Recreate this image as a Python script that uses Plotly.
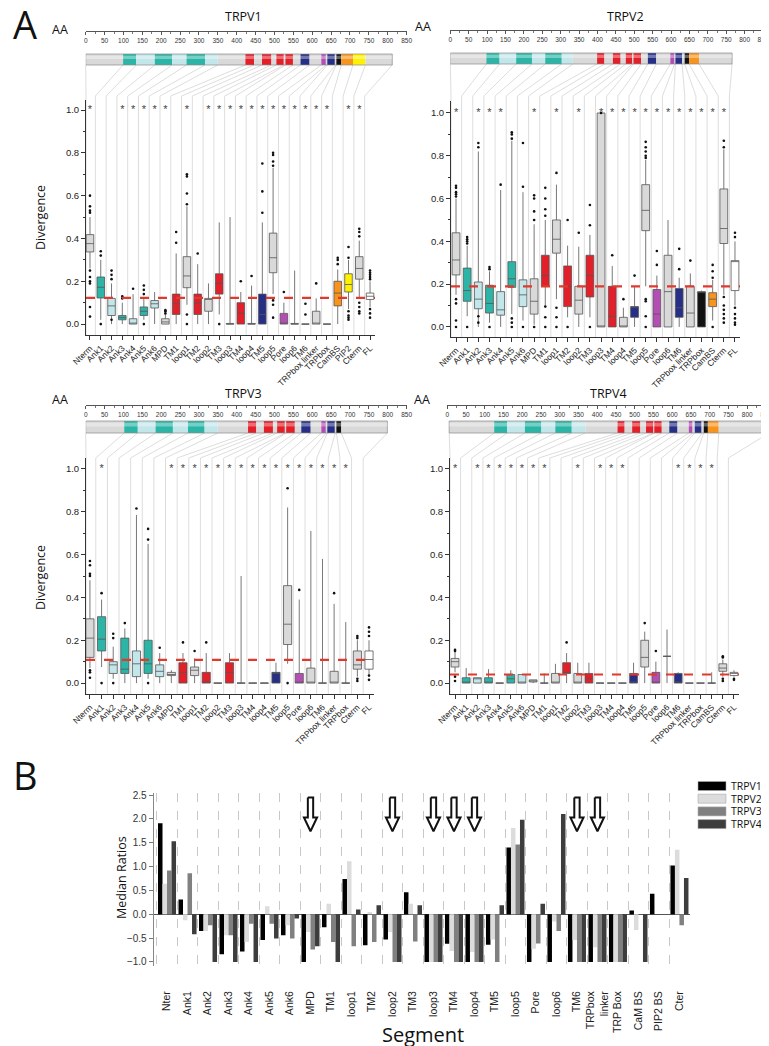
import plotly.graph_objects as go

W, H = 769, 1046

# ---------------- panel A data ----------------
v1_segments = ["Nterm", "Ank1", "Ank2", "Ank3", "Ank4", "Ank5", "Ank6", "MPD", "TM1", "loop1",
               "TM2", "loop2", "TM3", "loop3", "TM4", "loop4", "TM5", "loop5", "Pore", "loop6",
               "TM6", "TRPbox linker", "TRPbox", "CamBS", "PIP2", "Cterm", "FL"]
v1_q1 = [0.337, 0.122, 0.04, 0.02, 0.0, 0.04, 0.075, 0.0, 0.045, 0.17, 0.045, 0.06, 0.14, 0.0,
         0.0, 0.0, 0.0, 0.24, 0.0, 0.0, 0.0, 0.0, 0.0, 0.085, 0.15, 0.21, 0.115]
v1_med = [0.376, 0.172, 0.085, 0.03, 0.0, 0.06, 0.095, 0.01, 0.095, 0.225, 0.10, 0.115, 0.19, 0.0,
          0.05, 0.0, 0.045, 0.31, 0.0, 0.0, 0.0, 0.0, 0.0, 0.145, 0.185, 0.26, 0.13]
v1_q3 = [0.418, 0.22, 0.12, 0.04, 0.025, 0.08, 0.11, 0.025, 0.14, 0.315, 0.14, 0.12, 0.235, 0.003,
         0.10, 0.003, 0.14, 0.425, 0.05, 0.003, 0.0, 0.06, 0.0, 0.20, 0.235, 0.315, 0.145]
v1_lo = [0.26, 0.02, 0.0, 0.0, 0.0, 0.02, 0.0, 0.0, 0.0, 0.09, 0.0, 0.0, 0.045, 0.0,
         0.0, 0.0, 0.0, 0.14, 0.0, 0.0, 0.0, 0.0, 0.0, 0.0, 0.07, 0.12, 0.08]
v1_hi = [0.50, 0.30, 0.19, 0.10, 0.14, 0.12, 0.15, 0.045, 0.33, 0.55, 0.28, 0.19, 0.475, 0.50,
         0.15, 0.18, 0.475, 0.73, 0.10, 0.25, 0.0, 0.12, 0.0, 0.255, 0.30, 0.39, 0.20]
v1_out = [[0.52, 0.53, 0.55, 0.60, 0.25, 0.22, 0.20, 0.19, 0.08, 0.035], [0.32, 0.34, 0.0],
          [0.21, 0.23, 0.25, 0.02], [0.12, 0.13], [0.165], [0.14, 0.16, 0.18, 0.0], [],
          [0.05, 0.06, 0.065], [0.38, 0.43], [0.56, 0.61, 0.69, 0.70, 0.045, 0.0], [0.33], [],
          [0.0], [], [0.20], [0.225], [0.52, 0.62, 0.75],
          [0.74, 0.76, 0.79, 0.80, 0.12, 0.11, 0.09, 0.03], [0.15], [], [0.045, 0.095], [0.19],
          [], [0.28, 0.30, 0.31], [0.31, 0.36, 0.06, 0.04, 0.03, 0.02],
          [0.41, 0.43, 0.445, 0.10, 0.08, 0.06, 0.05], [0.21, 0.22, 0.23, 0.24, 0.25, 0.07, 0.05, 0.03]]
v1_stars = ["Nterm", "Ank3", "Ank4", "Ank5", "Ank6", "MPD", "loop1", "loop2", "TM3", "loop3", "TM4",
            "loop4", "TM5", "loop5", "Pore", "loop6", "TM6", "TRPbox linker", "TRPbox", "PIP2", "Cterm"]
v1_mean = 0.122
v1_starts = [0, 99, 134, 183, 229, 267, 316, 350, 423, 446, 467, 492, 505, 525, 529, 549, 569, 593,
             624, 637, 640, 662, 664, 677, 708, 741, 812]

v2_segments = ["Nterm", "Ank1", "Ank2", "Ank3", "Ank4", "Ank5", "Ank6", "MPD", "TM1", "loop1",
               "TM2", "loop2", "TM3", "loop3", "TM4", "loop4", "TM5", "loop5", "Pore", "loop6",
               "TM6", "TRPbox linker", "TRPbox", "CamBS", "Cterm", "FL"]
v2_q1 = [0.243, 0.12, 0.085, 0.065, 0.055, 0.185, 0.095, 0.06, 0.19, 0.345, 0.095, 0.06, 0.14, 0.0,
         0.0, 0.0, 0.045, 0.45, 0.0, 0.0, 0.045, 0.0, 0.0, 0.095, 0.39, 0.17]
v2_med = [0.313, 0.17, 0.13, 0.11, 0.08, 0.225, 0.15, 0.12, 0.24, 0.41, 0.19, 0.125, 0.24, 0.0,
          0.05, 0.0, 0.09, 0.545, 0.06, 0.165, 0.09, 0.065, 0.165, 0.13, 0.46, 0.31]
v2_q3 = [0.44, 0.275, 0.21, 0.195, 0.165, 0.305, 0.22, 0.225, 0.335, 0.50, 0.285, 0.19, 0.335, 1.0,
         0.19, 0.045, 0.095, 0.665, 0.175, 0.335, 0.18, 0.19, 0.165, 0.16, 0.645, 0.31]
v2_lo = [0.15, 0.05, 0.0, 0.02, 0.0, 0.06, 0.03, 0.01, 0.10, 0.13, 0.045, 0.0, 0.045, 0.0,
         0.0, 0.0, 0.0, 0.19, 0.0, 0.0, 0.0, 0.0, 0.0, 0.03, 0.15, 0.10]
v2_hi = [0.60, 0.38, 0.82, 0.26, 0.64, 0.87, 0.63, 0.48, 0.50, 0.665, 0.38, 0.375, 0.43, 1.0,
         0.285, 0.09, 0.19, 0.78, 0.24, 0.50, 0.23, 0.25, 0.17, 0.22, 0.83, 0.40]
v2_out = [[0.61, 0.62, 0.63, 0.65, 0.66, 0.13, 0.11, 0.03, 0.0], [0.39, 0.40, 0.41, 0.42, 0.0],
          [0.84, 0.86, 0.05, 0.02], [0.27, 0.28, 0.0], [0.665], [0.88, 0.90, 0.91, 0.04, 0.02, 0.0],
          [0.655, 0.86, 0.0], [0.50, 0.54, 0.60, 0.615, 0.0], [0.52, 0.55, 0.60, 0.65, 0.095, 0.045, 0.0],
          [0.72, 0.09, 0.045, 0.0], [0.50, 0.0], [0.44], [0.475, 0.57, 0.0], [1.0], [0.335], [0.13],
          [0.24], [0.79, 0.80, 0.82, 0.84, 0.865, 0.13, 0.12, 0.05, 0.0], [0.29, 0.355], [],
          [0.27, 0.365], [0.31], [], [0.23, 0.26, 0.29, 0.0],
          [0.84, 0.87, 0.14, 0.10, 0.08, 0.06, 0.04, 0.02], [0.42, 0.44, 0.09, 0.06, 0.04, 0.02, 0.01]]
v2_stars = ["Nterm", "Ank2", "Ank3", "Ank4", "MPD", "loop1", "loop2", "loop3", "TM4", "loop4", "TM5",
            "loop5", "Pore", "loop6", "TM6", "TRPbox linker", "TRPbox", "CamBS", "Cterm"]
v2_mean = 0.19
v2_starts = [0, 98, 134, 179, 222, 258, 303, 333, 399, 419, 442, 463, 477, 495, 498, 519, 537, 560,
             598, 610, 612, 630, 637, 649, 676, 766]

v3_segments = ["Nterm", "Ank1", "Ank2", "Ank3", "Ank4", "Ank5", "Ank6", "MPD", "TM1", "loop1",
               "TM2", "loop2", "TM3", "loop3", "TM4", "loop4", "TM5", "loop5", "Pore", "loop6",
               "TM6", "TRPbox linker", "TRPbox", "Cterm", "FL"]
v3_q1 = [0.12, 0.15, 0.045, 0.045, 0.03, 0.045, 0.03, 0.035, 0.0, 0.035, 0.0, 0.0, 0.0, 0.0,
         0.0, 0.0, 0.0, 0.18, 0.0, 0.0, 0.0, 0.0, 0.0, 0.065, 0.065]
v3_med = [0.21, 0.205, 0.085, 0.065, 0.09, 0.09, 0.055, 0.04, 0.05, 0.06, 0.0, 0.0, 0.05, 0.0,
          0.0, 0.0, 0.045, 0.275, 0.0, 0.0, 0.0, 0.0, 0.0, 0.085, 0.11]
v3_q3 = [0.30, 0.31, 0.10, 0.21, 0.15, 0.20, 0.085, 0.05, 0.095, 0.075, 0.05, 0.0, 0.095, 0.0,
         0.0, 0.0, 0.05, 0.455, 0.045, 0.07, 0.0, 0.055, 0.0, 0.15, 0.15]
v3_lo = [0.07, 0.075, 0.02, 0.0, 0.0, 0.02, 0.0, 0.0, 0.0, 0.0, 0.0, 0.0, 0.0, 0.0,
         0.0, 0.0, 0.0, 0.09, 0.0, 0.0, 0.0, 0.0, 0.0, 0.03, 0.04]
v3_hi = [0.48, 0.39, 0.17, 0.255, 0.785, 0.65, 0.14, 0.06, 0.14, 0.115, 0.14, 0.0, 0.14, 0.50,
         0.0, 0.0, 0.095, 0.82, 0.39, 0.71, 0.58, 0.37, 0.285, 0.20, 0.20]
v3_out = [[0.50, 0.51, 0.55, 0.57, 0.06, 0.05, 0.025], [0.42, 0.0], [0.21, 0.23, 0.0], [0.28],
          [0.815], [0.67, 0.72, 0.0], [0.165], [], [0.19], [0.15], [0.19], [], [], [], [], [], [],
          [0.91, 0.0], [0.435], [], [], [0.42], [], [0.21, 0.22, 0.02, 0.01],
          [0.22, 0.24, 0.26, 0.035, 0.015]]
v3_stars = ["Ank1", "MPD", "TM1", "loop1", "TM2", "loop2", "TM3", "loop3", "TM4", "loop4", "TM5",
            "loop5", "Pore", "loop6", "TM6", "TRPbox linker", "TRPbox"]
v3_mean = 0.108
v3_starts = [0, 102, 138, 185, 231, 271, 315, 350, 430, 452, 472, 496, 507, 529, 531, 554, 571, 596,
             624, 637, 640, 661, 664, 677, 799]

v4_segments = v2_segments
v4_q1 = [0.075, 0.0, 0.0, 0.0, 0.0, 0.0, 0.0, 0.005, 0.0, 0.0, 0.045, 0.0, 0.0, 0.0,
         0.0, 0.0, 0.0, 0.075, 0.0, 0.125, 0.0, 0.0, 0.0, 0.0, 0.055, 0.035]
v4_med = [0.10, 0.0, 0.02, 0.0, 0.0, 0.02, 0.0, 0.01, 0.0, 0.0, 0.05, 0.0, 0.02, 0.0,
          0.0, 0.0, 0.0, 0.12, 0.0, 0.125, 0.0, 0.0, 0.0, 0.0, 0.07, 0.045]
v4_q3 = [0.115, 0.025, 0.025, 0.025, 0.0, 0.04, 0.04, 0.015, 0.0, 0.045, 0.095, 0.045, 0.045, 0.0,
         0.0, 0.0, 0.045, 0.20, 0.05, 0.125, 0.045, 0.0, 0.0, 0.0, 0.09, 0.05]
v4_lo = [0.05, 0.0, 0.0, 0.0, 0.0, 0.0, 0.0, 0.0, 0.0, 0.0, 0.0, 0.0, 0.0, 0.0,
         0.0, 0.0, 0.0, 0.0, 0.0, 0.0, 0.0, 0.0, 0.0, 0.0, 0.03, 0.03]
v4_hi = [0.145, 0.07, 0.025, 0.065, 0.0, 0.06, 0.04, 0.015, 0.045, 0.09, 0.14, 0.095, 0.095, 0.0,
         0.0, 0.0, 0.095, 0.24, 0.10, 0.25, 0.05, 0.0, 0.0, 0.05, 0.11, 0.06]
v4_out = [[0.15, 0.155, 0.03, 0.01], [], [], [], [], [], [], [], [], [], [0.19], [], [], [], [], [],
          [], [0.28], [0.15], [], [], [], [], [], [0.12, 0.125, 0.02, 0.01], [0.02, 0.015]]
v4_stars = ["Nterm", "Ank2", "Ank3", "Ank4", "Ank5", "Ank6", "MPD", "TM1", "loop2", "loop3", "TM4",
            "loop4", "TM6", "TRPbox linker", "TRPbox", "CamBS"]
v4_mean = 0.04
v4_starts = [5, 125, 160, 207, 251, 288, 332, 368, 454, 473, 493, 515, 530, 550, 552, 572, 592, 614,
             644, 655, 660, 680, 684, 695, 724, 858]

# ---------------- panel B data ----------------
b_segments = ["Nter", "Ank1", "Ank2", "Ank3", "Ank4", "Ank5", "Ank6", "MPD", "TM1", "loop1", "TM2",
              "loop2", "TM3", "loop3", "TM4", "loop4", "TM5", "loop5", "Pore", "loop6", "TM6",
              "TRPbox<br>linker", "TRP Box", "CaM BS", "PIP2 BS", "Cter"]
ratio_v1 = [1.91, 0.31, -0.35, -0.84, -0.78, -0.54, -0.44, -1.0, -0.27, 0.74, -0.65, -0.53, 0.46,
            -1.0, -0.62, -1.0, -0.64, 1.40, -1.0, -1.0, -1.0, -1.0, -1.0, 0.08, 0.43, 1.02]
ratio_v2 = [0.64, -0.125, -0.35, -0.44, -0.58, 0.17, -0.23, -0.37, 0.22, 1.11, 0.05, -0.37, 0.22,
            -1.0, -0.77, -0.79, -0.53, 1.81, -0.72, -0.15, -0.54, -0.69, -1.0, -0.33, 0.0, 1.35]
ratio_v3 = [0.92, 0.86, -0.23, -0.44, -0.20, -0.20, -0.51, -0.74, -0.58, -0.67, -0.58, -1.0, -0.57,
            -1.0, -1.0, -1.0, -1.0, 1.46, -0.61, -0.35, -1.0, -1.0, -1.0, 0.0, 0.0, -0.23]
ratio_v4 = [1.53, -0.42, -1.0, -1.0, -1.0, -0.51, -0.09, -0.67, -1.0, 0.10, 0.19, -1.0, 0.19,
            -1.0, -1.0, -1.0, 0.19, 1.98, 0.22, 2.10, -1.0, -1.0, -1.0, -1.0, 0.0, 0.76]
arrow_segments = ["MPD", "loop2", "loop3", "TM4", "loop4", "TM6", "TRPbox<br>linker"]

# ---------------- styling ----------------
TEAL, LIGHT, GRAY = "#2cb5a6", "#c2e6ea", "#d9d9d9"
RED, BLUE, MAGENTA = "#e2202a", "#262f85", "#b34fb3"
BLACK, ORANGE, YELLOW, WHITE = "#111111", "#f7941e", "#fff100", "#ffffff"
SANS = "Liberation Sans, Arial, sans-serif"
MYRIAD = "Open Sans, Noto Sans, sans-serif"

# outline of a hollow down arrow: (offset from category centre, y value)
ARROW_OUTLINE = [(-0.13, 2.45), (0.13, 2.45), (0.13, 2.03), (0.32, 2.03), (0.0, 1.74),
                 (-0.32, 2.03), (-0.13, 2.03), (-0.13, 2.45)]


def seg_color(name):
    if name.startswith("Ank"):
        return TEAL if int(name[3]) % 2 else LIGHT
    if name in ("TM1", "TM2", "TM3", "TM4"):
        return RED
    if name in ("TM5", "TM6"):
        return BLUE
    return {"Pore": MAGENTA, "TRPbox": BLACK, "CamBS": ORANGE,
            "PIP2": YELLOW, "FL": WHITE}.get(name, GRAY)


proteins = [
    dict(name="TRPV1", seg=v1_segments, q1=v1_q1, med=v1_med, q3=v1_q3, lo=v1_lo, hi=v1_hi,
         out=v1_out, stars=v1_stars, mean=v1_mean, starts=v1_starts),
    dict(name="TRPV2", seg=v2_segments, q1=v2_q1, med=v2_med, q3=v2_q3, lo=v2_lo, hi=v2_hi,
         out=v2_out, stars=v2_stars, mean=v2_mean, starts=v2_starts),
    dict(name="TRPV3", seg=v3_segments, q1=v3_q1, med=v3_med, q3=v3_q3, lo=v3_lo, hi=v3_hi,
         out=v3_out, stars=v3_stars, mean=v3_mean, starts=v3_starts),
    dict(name="TRPV4", seg=v4_segments, q1=v4_q1, med=v4_med, q3=v4_q3, lo=v4_lo, hi=v4_hi,
         out=v4_out, stars=v4_stars, mean=v4_mean, starts=v4_starts),
]

# pixel geometry of each sub panel (box area, ruler, cylinder)
geom = [
    dict(bx=(78, 367), by=(92, 327), xr=(-0.37, 26.46), yr=(-0.051, 1.047),
         rx=(77.7, 398.6), ry=23, cy=(46, 57), diag=88, title=(235, 8), aa=(52, 21), div=210),
    dict(bx=(443, 732), by=(93, 329), xr=(-0.45, 25.45), yr=(-0.047, 1.056),
         rx=(442.3, 755), ry=22, cy=(45, 56), diag=88, title=(617, 8), aa=(415, 19), div=None),
    dict(bx=(78, 366), by=(450, 686), xr=(-0.34, 24.43), yr=(-0.051, 1.051),
         rx=(77.7, 398.6), ry=397, cy=(413, 425), diag=450, title=(235, 385), aa=(52, 391), div=570),
    dict(bx=(442, 731), by=(450, 686), xr=(-0.45, 25.45), yr=(-0.051, 1.051),
         rx=(439.3, 758), ry=397, cy=(413, 425), diag=450, title=(600, 385), aa=(414, 391), div=None),
]


def ref(prefix, n):
    return prefix if n == 1 else f"{prefix}{n}"


def key(prefix, n):
    return f"{prefix}axis" if n == 1 else f"{prefix}axis{n}"


def box_px(g, v):
    return g["bx"][0] + (v - g["xr"][0]) / (g["xr"][1] - g["xr"][0]) * (g["bx"][1] - g["bx"][0])


def aa_px(g, aa):
    return g["rx"][0] + aa / 850 * (g["rx"][1] - g["rx"][0])


def label(x, y, text, size=12.5, family=MYRIAD, xanchor="center", **kw):
    # free text placed in page pixels
    return dict(x=x / W, y=1 - y / H, xref="paper", yref="paper", text=text, showarrow=False,
                xanchor=xanchor, yanchor="middle",
                font=dict(size=size, color="#111", family=family), **kw)


fig = go.Figure()
axes = {}
shapes = []
annotations = []

for k, (p, g) in enumerate(zip(proteins, geom)):
    n = k + 1
    xr_, yr_ = ref("x", n), ref("y", n)
    seg = p["seg"]

    # box plots
    for i, s in enumerate(seg):
        fig.add_trace(go.Box(
            x=[i], q1=[p["q1"][i]], median=[p["med"][i]], q3=[p["q3"][i]],
            lowerfence=[p["lo"][i]], upperfence=[p["hi"][i]], width=0.7, whiskerwidth=0,
            fillcolor=seg_color(s), line=dict(color="#555555", width=0.8),
            boxpoints=False, hoverinfo="skip", showlegend=False, xaxis=xr_, yaxis=yr_))
    ox, oy = [], []
    for i, vals in enumerate(p["out"]):
        ox += [i] * len(vals)
        oy += vals
    fig.add_trace(go.Scatter(x=ox, y=oy, mode="markers", marker=dict(size=2.6, color="#111"),
                             showlegend=False, hoverinfo="skip", xaxis=xr_, yaxis=yr_))
    fig.add_trace(go.Scatter(x=[seg.index(s) for s in p["stars"]], y=[1.0] * len(p["stars"]),
                             mode="text", text=["*"] * len(p["stars"]),
                             textfont=dict(size=11, color="#444", family=SANS),
                             showlegend=False, hoverinfo="skip", xaxis=xr_, yaxis=yr_))

    axes[key("x", n)] = dict(
        domain=[g["bx"][0] / W, g["bx"][1] / W], range=list(g["xr"]), anchor=yr_,
        tickmode="array", tickvals=list(range(len(seg))), ticktext=seg, tickangle=-45,
        tickfont=dict(size=8.5, color="#222", family=SANS), ticks="outside", ticklen=4,
        tickcolor="#333", showline=True, linecolor="#333", linewidth=1, showgrid=False,
        zeroline=False, automargin=False)
    axes[key("y", n)] = dict(
        domain=[1 - g["by"][1] / H, 1 - g["by"][0] / H], range=list(g["yr"]), anchor=xr_,
        tickmode="array", tickvals=[0, 0.2, 0.4, 0.6, 0.8, 1.0], tickformat=".1f",
        tickfont=dict(size=9.5, color="#222", family=SANS), ticks="outside", ticklen=4,
        tickcolor="#333", showline=True, linecolor="#333", linewidth=1, showgrid=False,
        zeroline=False, automargin=False,
        minor=dict(dtick=0.1, tick0=0, ticks="outside", ticklen=2, tickcolor="#333"))

    shapes.append(dict(type="line", xref=f"{xr_} domain", yref=yr_, x0=0, x1=1,
                       y0=p["mean"], y1=p["mean"], layer="above",
                       line=dict(color="#e0392e", width=2.2, dash="dash")))

    # ruler + cylinder
    m = n + 4
    xc, yc = ref("x", m), ref("y", m)
    st = p["starts"]
    fig.add_trace(go.Bar(
        y=[0] * (len(st) - 1), x=[st[j + 1] - st[j] for j in range(len(st) - 1)], base=st[:-1],
        orientation="h", width=1, marker=dict(color=[seg_color(s) for s in seg[:-1]],
                                               line=dict(width=0)),
        showlegend=False, hoverinfo="skip", xaxis=xc, yaxis=yc))
    axes[key("x", m)] = dict(
        domain=[g["rx"][0] / W, g["rx"][1] / W], range=[0, 850], anchor="free",
        position=1 - g["ry"] / H, side="bottom", tickmode="linear", tick0=0, dtick=50,
        ticks="outside", ticklen=3, tickcolor="#555", tickfont=dict(size=6.5, color="#333", family=SANS),
        showline=True, linecolor="#555", linewidth=0.8, showgrid=False, zeroline=False,
        minor=dict(dtick=25, ticks="outside", ticklen=2, tickcolor="#777"), automargin=False)
    axes[key("y", m)] = dict(domain=[1 - g["cy"][1] / H, 1 - g["cy"][0] / H], range=[-0.5, 0.5],
                             anchor=xc, visible=False)
    shapes.append(dict(type="rect", xref=xc, yref=f"{yc} domain", x0=st[0], x1=st[-1], y0=0, y1=1,
                       line=dict(color="#8a8a8a", width=0.7), layer="above"))
    shapes.append(dict(type="rect", xref=xc, yref=f"{yc} domain", x0=st[0], x1=st[-1], y0=0.55,
                       y1=0.85, fillcolor="rgba(255,255,255,0.35)", line=dict(width=0),
                       layer="above"))

    # connector lines from domains to categories
    for j in range(len(st)):
        xt = aa_px(g, st[j])
        xb = max(box_px(g, j - 0.5), g["bx"][0])
        lc = dict(color="#cfcfcf", width=0.7)
        shapes.append(dict(type="line", xref="paper", yref="paper", x0=xt / W, y0=1 - g["cy"][1] / H,
                           x1=xb / W, y1=1 - g["diag"] / H, line=lc, layer="below"))
        shapes.append(dict(type="line", xref="paper", yref="paper", x0=xb / W, y0=1 - g["diag"] / H,
                           x1=xb / W, y1=1 - g["by"][1] / H, line=lc, layer="below"))

    annotations.append(label(*g["title"], p["name"]))
    annotations.append(label(*g["aa"], "AA"))
    if g["div"]:
        annotations.append(label(32, g["div"], "Divergence", textangle=-90))

# ---------------- panel B ----------------
bar_colors = ["#000000", "#dcdcdc", "#808080", "#3d3d3d"]
b_names = ["TRPV1", "TRPV2", "TRPV3", "TRPV4"]
b_x = list(range(len(b_segments)))
for name, vals, col in zip(b_names, [ratio_v1, ratio_v2, ratio_v3, ratio_v4], bar_colors):
    fig.add_trace(go.Bar(x=b_x, y=vals, name=name, marker=dict(color=col, line=dict(width=0)),
                         showlegend=False, hoverinfo="skip", xaxis="x9", yaxis="y9"))

ax_x, ax_y = [], []
for s in arrow_segments:
    c = b_segments.index(s)
    ax_x += [c + dx for dx, _ in ARROW_OUTLINE] + [None]
    ax_y += [yv for _, yv in ARROW_OUTLINE] + [None]
fig.add_trace(go.Scatter(x=ax_x, y=ax_y, mode="lines", fill="toself", fillcolor="white",
                         line=dict(color="#111", width=2), showlegend=False, hoverinfo="skip",
                         xaxis="x9", yaxis="y9"))

axes["xaxis9"] = dict(
    domain=[145.7 / W, 681.7 / W], range=[-0.65, 25.5], anchor="y9", tickmode="array",
    tickvals=b_x, ticktext=b_segments, tickangle=-90, ticks="outside", ticklen=20,
    tickcolor="rgba(0,0,0,0)", tickfont=dict(size=10.5, color="#222", family=SANS),
    showline=False, showgrid=False, zeroline=False, automargin=False,
    minor=dict(tick0=0.5, dtick=1, showgrid=True, gridcolor="#c8c8c8", gridwidth=0.8,
               griddash="dash", ticks=""))
axes["yaxis9"] = dict(
    domain=[1 - 958 / H, 1 - 785 / H], range=[-1.084, 2.542], anchor="x9", tickmode="array",
    tickvals=[-1, -0.5, 0, 0.5, 1, 1.5, 2, 2.5], tickformat=".1f",
    tickfont=dict(size=10, color="#333", family=SANS), ticks="outside", ticklen=4,
    tickcolor="#777", showline=True, linecolor="#888", linewidth=1, showgrid=False,
    zeroline=True, zerolinecolor="#555", zerolinewidth=1.2, automargin=False)

# legend for panel B
for j, (name, col) in enumerate(zip(b_names, bar_colors)):
    yy = 778 + 12.7 * j
    shapes.append(dict(type="rect", xref="paper", yref="paper", x0=690 / W, x1=718 / W,
                       y0=1 - (yy + 4.5) / H, y1=1 - (yy - 4.5) / H, fillcolor=col,
                       line=dict(color="#aaa", width=0.6)))
    annotations.append(label(721, yy, name, size=10.5, xanchor="left"))

annotations += [
    label(17, 16, "A", size=38),
    label(17, 767, "B", size=38),
    label(113, 870, "Median Ratios", textangle=-90),
    label(415, 1026, "Segment", size=20),
]

fig.update_layout(
    width=W, height=H, margin=dict(l=0, r=0, t=0, b=0),
    paper_bgcolor="white", plot_bgcolor="rgba(0,0,0,0)",
    barmode="group", bargap=0.12, bargroupgap=0,
    showlegend=False, shapes=shapes, annotations=annotations, **axes)

fig.write_html("out.html")
